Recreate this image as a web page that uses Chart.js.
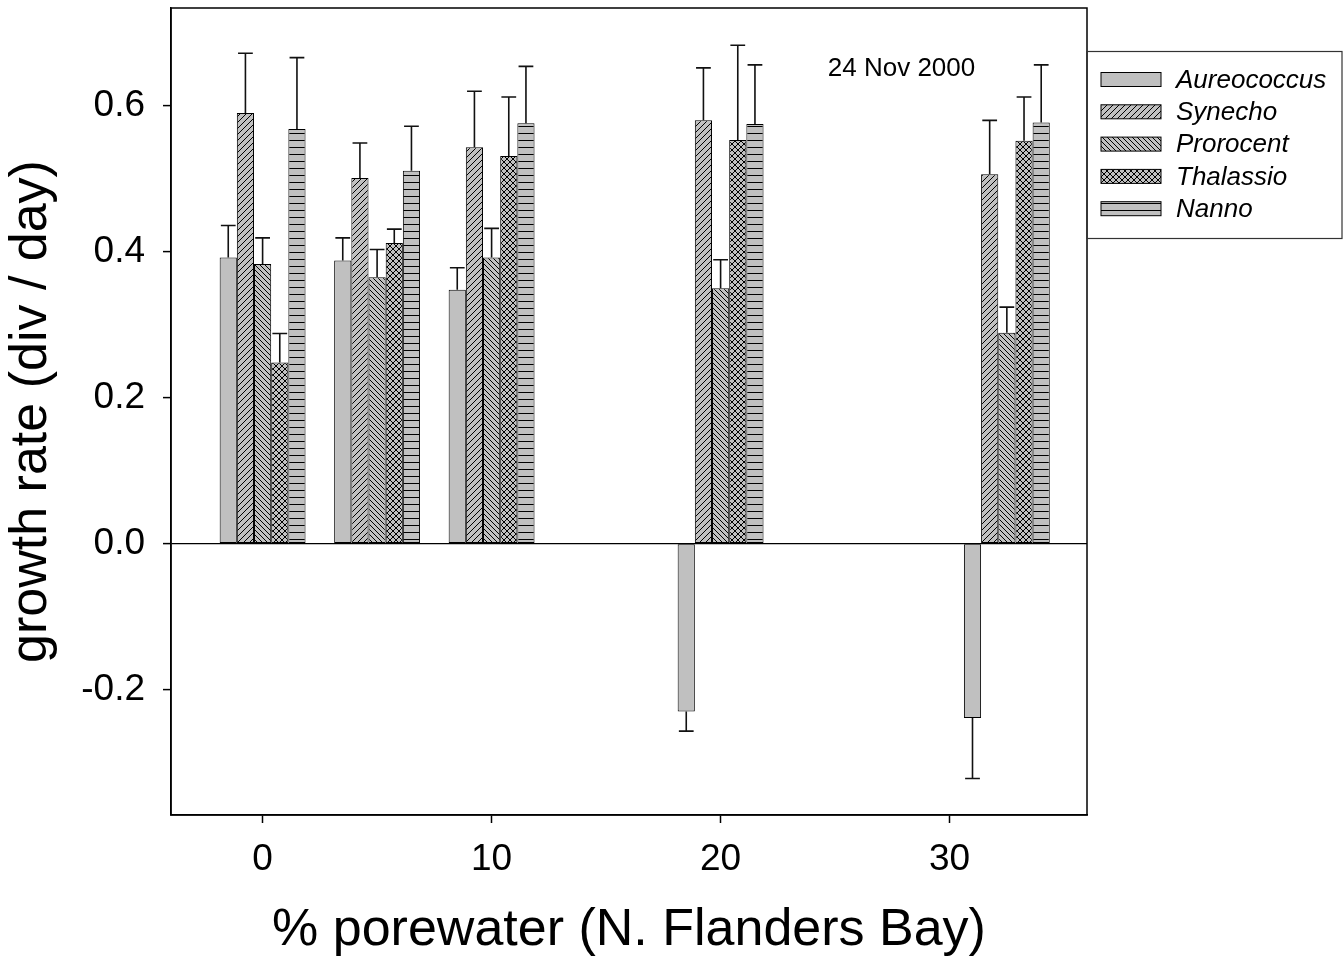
<!DOCTYPE html>
<html lang="en">
<head>
  <meta charset="UTF-8">
  <title>Growth rate vs porewater</title>
  <style>
    html, body { margin: 0; padding: 0; background: #fff; }
    #wrap { width: 1343px; height: 962px; }
  </style>
</head>
<body>
  <div id="wrap"><canvas id="growthChart"></canvas></div>

  <script src="https://cdn.jsdelivr.net/npm/chart.js"></script>
  <script>
    // % porewater for each group of bars
    const porewater = [0, 5, 10, 20, 32.5];

    // growth rates (div / day) and their error bars, one pair per species
    const aureococcus    = [0.392, 0.388, 0.348, -0.230, -0.239];
    const aureococcusErr = [0.044, 0.031, 0.030, 0.027, 0.083];
    const synecho        = [0.590, 0.501, 0.543, 0.580, 0.506];
    const synechoErr     = [0.082, 0.048, 0.077, 0.072, 0.074];
    const prorocent      = [0.383, 0.365, 0.392, 0.350, 0.289];
    const prorocentErr   = [0.036, 0.038, 0.040, 0.039, 0.035];
    const thalassio      = [0.248, 0.412, 0.531, 0.553, 0.552];
    const thalassioErr   = [0.040, 0.019, 0.081, 0.130, 0.060];
    const nanno          = [0.568, 0.511, 0.576, 0.575, 0.577];
    const nannoErr       = [0.098, 0.061, 0.078, 0.081, 0.079];

    const xTicks = [0, 10, 20, 30];
    const yTicks = [-0.2, 0.0, 0.2, 0.4, 0.6];
    const dateLabel = '24 Nov 2000';

    const FONT = '"Liberation Sans", Arial, Helvetica, sans-serif';
    const BAR_GRAY = '#c0c0c0';

    // hatch fills like the original plot
    function makePattern(kind) {
      const c = document.createElement('canvas');
      const s = kind === 'horiz' ? 7 : (kind === 'back' ? 5 : 6);
      c.width = s; c.height = s;
      const g = c.getContext('2d');
      g.fillStyle = BAR_GRAY;
      g.fillRect(0, 0, s, s);
      g.strokeStyle = '#000';
      g.lineWidth = 1;
      g.beginPath();
      if (kind === 'fwd' || kind === 'cross') {
        g.moveTo(-1, s + 1); g.lineTo(s + 1, -1);
        g.moveTo(-1, 1); g.lineTo(1, -1);
        g.moveTo(s - 1, s + 1); g.lineTo(s + 1, s - 1);
      }
      if (kind === 'back' || kind === 'cross') {
        g.moveTo(-1, -1); g.lineTo(s + 1, s + 1);
        g.moveTo(s - 1, -1); g.lineTo(s + 1, 1);
        g.moveTo(-1, s - 1); g.lineTo(1, s + 1);
      }
      if (kind === 'horiz') {
        g.moveTo(0, 0.5); g.lineTo(s, 0.5);
      }
      g.stroke();
      return g.createPattern(c, 'repeat');
    }

    const fills = [BAR_GRAY, makePattern('fwd'), makePattern('back'), makePattern('cross'), makePattern('horiz')];
    const series = [
      ['Aureococcus', aureococcus, aureococcusErr],
      ['Synecho', synecho, synechoErr],
      ['Prorocent', prorocent, prorocentErr],
      ['Thalassio', thalassio, thalassioErr],
      ['Nanno', nanno, nannoErr]
    ];

    const datasets = series.map(([name, vals, errs], i) => ({
      label: name,
      data: porewater.map((x, j) => ({ x: x, y: vals[j] })),
      errors: errs,
      backgroundColor: fills[i],
      borderColor: '#000',
      borderWidth: 1,
      borderSkipped: false
    }));

    // error bars, drawn away from zero
    const errorBars = {
      id: 'errorBars',
      afterDatasetsDraw(chart) {
        const ctx = chart.ctx;
        const yScale = chart.scales.y;
        ctx.save();
        ctx.strokeStyle = '#111';
        ctx.lineWidth = 1.6;
        chart.data.datasets.forEach((ds, i) => {
          chart.getDatasetMeta(i).data.forEach((bar, j) => {
            const v = ds.data[j].y;
            const end = yScale.getPixelForValue(v + Math.sign(v) * ds.errors[j]);
            const half = bar.width * 0.43;
            ctx.beginPath();
            ctx.moveTo(bar.x, bar.y);
            ctx.lineTo(bar.x, end);
            ctx.moveTo(bar.x - half, end);
            ctx.lineTo(bar.x + half, end);
            ctx.stroke();
          });
        });
        ctx.restore();
      }
    };

    // frame, date label and boxed legend
    const decorations = {
      id: 'decorations',
      afterDraw(chart) {
        const ctx = chart.ctx;
        const a = chart.chartArea;
        ctx.save();
        ctx.strokeStyle = '#000';
        ctx.lineWidth = 1.5;
        ctx.strokeRect(a.left, a.top, a.right - a.left, a.bottom - a.top);

        ctx.fillStyle = '#000';
        ctx.font = '26px ' + FONT;
        ctx.textAlign = 'center';
        ctx.textBaseline = 'middle';
        ctx.fillText(dateLabel, chart.scales.x.getPixelForValue(27.9), chart.scales.y.getPixelForValue(0.651));

        // legend box
        const lx = a.right, ly = 51.5, lw = 1342 - a.right, lh = 187;
        ctx.lineWidth = 1.2;
        ctx.strokeStyle = '#333';
        ctx.strokeRect(lx, ly, lw, lh);
        ctx.font = 'italic 26px ' + FONT;
        ctx.textAlign = 'left';
        chart.data.datasets.forEach((ds, i) => {
          const cy = 79.5 + i * 32.3;
          ctx.fillStyle = ds.backgroundColor;
          ctx.fillRect(lx + 14, cy - 7, 60, 14);
          ctx.strokeStyle = '#000';
          ctx.lineWidth = 1;
          ctx.strokeRect(lx + 14, cy - 7, 60, 14);
          ctx.fillStyle = '#000';
          ctx.fillText(ds.label, lx + 89, cy + 1);
        });
        ctx.restore();
      }
    };

    Chart.defaults.font.family = FONT;
    Chart.defaults.color = '#000';

    new Chart(document.getElementById('growthChart'), {
      type: 'bar',
      data: { datasets: datasets },
      options: {
        responsive: true,
        maintainAspectRatio: false,
        animation: false,
        categoryPercentage: 0.75,
        barPercentage: 1.0,
        layout: { padding: { top: 8, right: 256, left: 0, bottom: 0 } },
        plugins: { legend: { display: false }, tooltip: { enabled: false } },
        scales: {
          x: {
            type: 'linear',
            min: -4,
            max: 36,
            offset: false,
            afterFit: (s) => { s.height = 147; s.paddingLeft = 0; s.paddingRight = 0; },
            afterBuildTicks: (s) => { s.ticks = xTicks.map(v => ({ value: v })); },
            grid: { offset: false, drawOnChartArea: false, tickLength: 8, tickColor: '#000', tickWidth: 1.5 },
            border: { color: '#000', width: 1.5 },
            ticks: { font: { size: 37 }, padding: 15, maxRotation: 0 },
            title: { display: true, text: '% porewater (N. Flanders Bay)', font: { size: 52 }, padding: { top: 0, bottom: 0 } }
          },
          y: {
            min: -0.372,
            max: 0.734,
            afterFit: (s) => { s.width = 171; s.paddingTop = 0; s.paddingBottom = 0; },
            afterBuildTicks: (s) => { s.ticks = yTicks.map(v => ({ value: v })); },
            grid: {
              color: (c) => (c.tick && c.tick.value === 0 ? '#000' : 'rgba(0,0,0,0)'),
              lineWidth: 1.2,
              tickLength: 8,
              tickColor: '#000',
              tickWidth: 1.5
            },
            border: { color: '#000', width: 1.5 },
            ticks: { font: { size: 37 }, padding: 18, callback: (v) => v.toFixed(1) },
            title: { display: true, text: 'growth rate (div / day)', font: { size: 52 }, padding: { top: 0, bottom: 8 } }
          }
        }
      },
      plugins: [errorBars, decorations]
    });
  </script>
</body>
</html>
